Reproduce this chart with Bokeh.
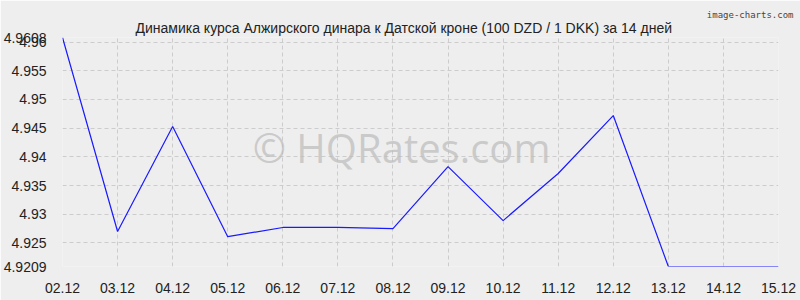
from bokeh.plotting import figure
from bokeh.models import Range1d, FixedTicker, Label, Title
from bokeh.embed import file_html
from bokeh.resources import INLINE

dates = ["02.12", "03.12", "04.12", "05.12", "06.12", "07.12", "08.12",
         "09.12", "10.12", "11.12", "12.12", "13.12", "14.12", "15.12"]
rates = [4.9608, 4.9270, 4.9453, 4.9261, 4.9277, 4.9277, 4.9275,
         4.9383, 4.9289, 4.9371, 4.9472, 4.9209, 4.9209, 4.9209]
y_ticks = [4.9209, 4.925, 4.93, 4.935, 4.94, 4.945, 4.95, 4.955, 4.96, 4.9608]
y_labels = ["4.9209", "4.925", "4.93", "4.935", "4.94", "4.945", "4.95", "4.955", "4.96", "4.9608"]
title_text = "Динамика курса Алжирского динара к Датской кроне (100 DZD / 1 DKK) за 14 дней"
credit_text = "image-charts.com"

xs = list(range(len(dates)))
ymin, ymax = min(y_ticks), max(y_ticks)

p = figure(width=800, height=300, output_backend="svg", toolbar_location=None,
           x_range=Range1d(0, len(dates) - 1), y_range=Range1d(ymin, ymax),
           min_border_left=60, min_border_right=22, min_border_top=37, min_border_bottom=34,
           title=credit_text)
p.background_fill_color = "#eeeeee"
p.border_fill_color = "#eeeeee"
p.outline_line_color = None

p.title.align = "right"
p.title.offset = -15
p.title.standoff = -6
p.title.text_font = "DejaVu Sans Mono"
p.title.text_font_size = "9px"
p.title.text_font_style = "normal"
p.title.text_color = "#444444"

p.add_layout(Title(text=title_text, align="left", offset=73, standoff=3,
                   text_font="Liberation Sans", text_font_size="14px",
                   text_font_style="normal", text_color="#222222"), "above")

p.line(xs, rates, line_color="#1a1aff", line_width=1.2)

for ax in (p.xaxis, p.yaxis):
    ax.axis_line_color = None
    ax.major_tick_line_color = None
    ax.minor_tick_line_color = None
    ax.major_label_text_font = "Liberation Sans"
    ax.major_label_text_font_size = "14px"
    ax.major_label_text_color = "#222222"

p.xaxis.ticker = FixedTicker(ticks=xs)
p.xaxis.major_label_overrides = {i: d for i, d in enumerate(dates)}
p.xaxis.major_label_standoff = 10
p.yaxis.ticker = FixedTicker(ticks=y_ticks)
p.yaxis.major_label_overrides = {t: l for t, l in zip(y_ticks, y_labels)}
p.yaxis.major_label_standoff = 10

p.xgrid.grid_line_color = "#cccccc"
p.xgrid.grid_line_dash = "4 3"
p.ygrid.grid_line_color = "#cccccc"
p.ygrid.grid_line_dash = "4 3"

px_per_unit = (266 - 37) / (ymax - ymin)
xw = (400 - 60) / 718 * (len(dates) - 1)

p.add_layout(Label(x=xw, y=ymax - (147 - 37) / px_per_unit, text="© HQRates.com",
                   text_align="center", text_baseline="middle",
                   text_font="Open Sans", text_font_size="40px",
                   text_color="#bbbbbb", text_alpha=0.7))

open("out.html", "w").write(file_html(p, INLINE))
